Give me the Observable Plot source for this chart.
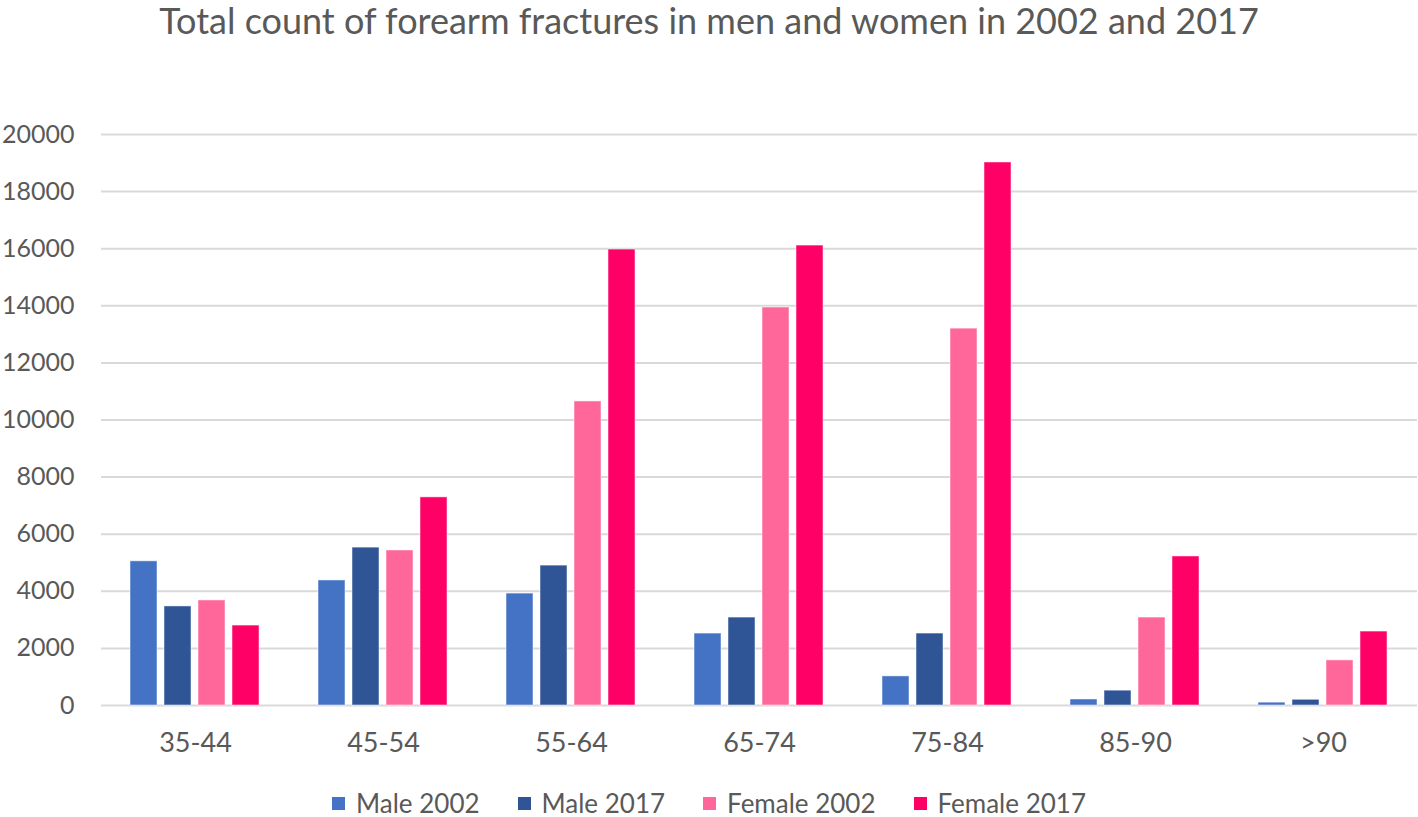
<!DOCTYPE html>
<html>
<head>
<meta charset="utf-8">
<script src="https://cdn.jsdelivr.net/npm/d3@7"></script>
<script src="https://cdn.jsdelivr.net/npm/@observablehq/plot@0.6"></script>
<style>
  html, body { margin: 0; padding: 0; background: #fff; }
  body { position: relative; width: 1418px; height: 817px; overflow: hidden; font-family: Lato, "Open Sans", sans-serif; color: #595959; }
  #title { height: 45px; line-height: 40px; text-align: center; font-size: 36px; white-space: nowrap; }
  #legend { position: absolute; left: 0; top: 790px; width: 1418px; height: 26px; line-height: 26px; display: flex; justify-content: center; align-items: center; font-size: 26px; }
  .item { display: flex; align-items: center; margin: 0 19px; }
  .sw { width: 13px; height: 13px; margin-right: 11px; }
</style>
</head>
<body>
<div id="title">Total count of forearm fractures in men and women in 2002 and 2017</div>
<div id="chart"></div>
<div id="legend"></div>
<script>
const ages = ["35-44", "45-54", "55-64", "65-74", "75-84", "85-90", ">90"];
const series = ["Male 2002", "Male 2017", "Female 2002", "Female 2017"];
const male2002 = [5050, 4380, 3920, 2520, 1020, 210, 100];
const male2017 = [3470, 5530, 4900, 3080, 2520, 520, 200];
const female2002 = [3680, 5430, 10650, 13940, 13200, 3080, 1580];
const female2017 = [2800, 7290, 15970, 16110, 19020, 5220, 2590];
const colors = ["#4472C4", "#2F5597", "#FF6699", "#FF0066"];
const yTicks = [0, 2000, 4000, 6000, 8000, 10000, 12000, 14000, 16000, 18000, 20000];

const valuesBySeries = [male2002, male2017, female2002, female2017];
const data = [];
ages.forEach((a, i) => {
  series.forEach((s, j) => data.push({age: a, series: s, value: valuesBySeries[j][i]}));
});

const chart = Plot.plot({
  width: 1418,
  height: 730,
  marginLeft: 100,
  marginRight: 0,
  marginTop: 89,
  marginBottom: 70,
  style: {fontFamily: "Lato, 'Open Sans', sans-serif", fontSize: "25px", color: "#595959", background: "white"},
  fx: {domain: ages, padding: 0, label: null},
  x: {domain: series, axis: null, paddingInner: 0.2, paddingOuter: 0.8},
  y: {domain: [0, 20000], label: null},
  color: {domain: series, range: colors},
  marks: [
    Plot.gridY(yTicks, {stroke: "#d9d9d9", strokeOpacity: 1, strokeWidth: 2}),
    Plot.axisY(yTicks, {tickSize: 0, tickPadding: 27, label: null, tickFormat: d => String(d), fill: "#595959", fontSize: 25}),
    Plot.axisFx({anchor: "bottom", tickSize: 0, tickPadding: 27, label: null, fill: "#595959", fontSize: 27}),
    Plot.barY(data, {fx: "age", x: "series", y: "value", fill: "series", stroke: "white", strokeOpacity: 0.5, strokeWidth: 1})
  ]
});
document.getElementById("chart").appendChild(chart);

const legend = document.getElementById("legend");
series.forEach((s, i) => {
  const item = document.createElement("div");
  item.className = "item";
  const sw = document.createElement("div");
  sw.className = "sw";
  sw.style.background = colors[i];
  const t = document.createElement("span");
  t.textContent = s;
  item.appendChild(sw);
  item.appendChild(t);
  legend.appendChild(item);
});
</script>
</body>
</html>
